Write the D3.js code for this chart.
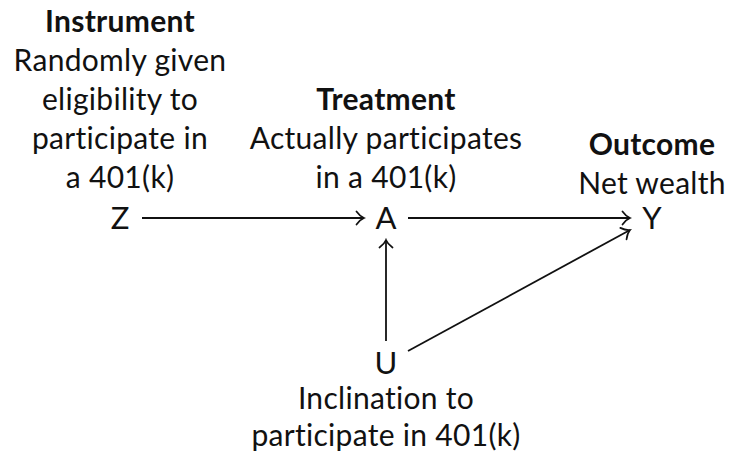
<!DOCTYPE html>
<html>
<head>
<meta charset="utf-8">
<script src="https://cdn.jsdelivr.net/npm/d3@7"></script>
<style>
  body { margin: 0; background: #fff; }
  text { font-family: Lato, "DejaVu Sans", sans-serif; fill: #111; }
</style>
</head>
<body>
<script>
// DAG: instrument -> treatment -> outcome, with unobserved confounder U
var nodeIds = ["Z", "A", "Y", "U"];
var nodeCol = [0, 1, 2, 1];
var nodeRow = [0, 0, 0, 1];
var nodeTitle = ["Instrument", "Treatment", "Outcome", null];
var nodeNotes = [
    ["Randomly given", "eligibility to", "participate in", "a 401(k)"],
    ["Actually participates", "in a 401(k)"],
    ["Net wealth"],
    ["Inclination to", "participate in 401(k)"]
];
var labelSide = ["above", "above", "above", "below"];

var edgeFrom = ["Z", "A", "U", "U"];
var edgeTo = ["A", "Y", "A", "Y"];

var width = 729, height = 452;

var svg = d3.select("body").append("svg")
    .attr("width", width)
    .attr("height", height);

var x = d3.scaleLinear().domain([0, 2]).range([120, 652]),
    y = d3.scaleLinear().domain([0, 1]).range([218, 363]);

var lineGap = 39;
var half = 22; // clip box around each node letter

var nodes = nodeIds.map(function (id, i) {
    return {
        id: id, cx: x(nodeCol[i]), cy: y(nodeRow[i]),
        title: nodeTitle[i], notes: nodeNotes[i], side: labelSide[i]
    };
});
var byId = {};
nodes.forEach(function (n) { byId[n.id] = n; });

// arrow head like tikz "to"
svg.append("defs").append("marker")
    .attr("id", "tip")
    .attr("viewBox", "-10 -8 12 16")
    .attr("refX", 0).attr("refY", 0)
    .attr("markerWidth", 12).attr("markerHeight", 16)
    .attr("markerUnits", "userSpaceOnUse")
    .attr("orient", "auto")
    .append("path")
    .attr("d", "M-7.5,-6.5 C-5,-3 -2,-0.8 0,0 C-2,0.8 -5,3 -7.5,6.5")
    .attr("fill", "none")
    .attr("stroke", "#111")
    .attr("stroke-width", 1.7)
    .attr("stroke-linecap", "round");

function clip(a, b) {
    var dx = b.cx - a.cx, dy = b.cy - a.cy;
    var t = Math.min(dx ? half / Math.abs(dx) : Infinity, dy ? half / Math.abs(dy) : Infinity);
    return [a.cx + dx * t, a.cy + dy * t];
}

var edges = edgeFrom.map(function (f, i) { return { s: byId[f], t: byId[edgeTo[i]] }; });

svg.selectAll(".edge")
    .data(edges)
    .enter().append("line")
    .attr("class", "edge")
    .attr("x1", function (d) { return clip(d.s, d.t)[0]; })
    .attr("y1", function (d) { return clip(d.s, d.t)[1]; })
    .attr("x2", function (d) { return clip(d.t, d.s)[0]; })
    .attr("y2", function (d) { return clip(d.t, d.s)[1]; })
    .attr("stroke", "#111")
    .attr("stroke-width", 1.8)
    .attr("marker-end", "url(#tip)");

var g = svg.selectAll(".node")
    .data(nodes)
    .enter().append("g")
    .attr("class", "node")
    .attr("transform", function (d) { return "translate(" + d.cx + "," + d.cy + ")"; });

g.append("text")
    .attr("text-anchor", "middle")
    .attr("y", 11)
    .style("font-size", "31px")
    .text(function (d) { return d.id; });

g.each(function (d) {
    var lines = [];
    if (d.title) lines.push({ t: d.title, bold: true });
    d.notes.forEach(function (s) { lines.push({ t: s, bold: false }); });
    var sel = d3.select(this);
    var n = lines.length;
    // last line sits a bit lower when it has no descenders
    var lastBase = d.id === "Y" ? -24 : -30;
    lines.forEach(function (l, i) {
        var yy = d.side === "above" ? lastBase - (n - 1 - i) * lineGap : 46 + i * 37;
        sel.append("text")
            .attr("text-anchor", "middle")
            .attr("y", yy)
            .style("font-size", "30px")
            .style("letter-spacing", "0.3px")
            .style("font-weight", l.bold ? 700 : 400)
            .text(l.t);
    });
});
</script>
</body>
</html>
